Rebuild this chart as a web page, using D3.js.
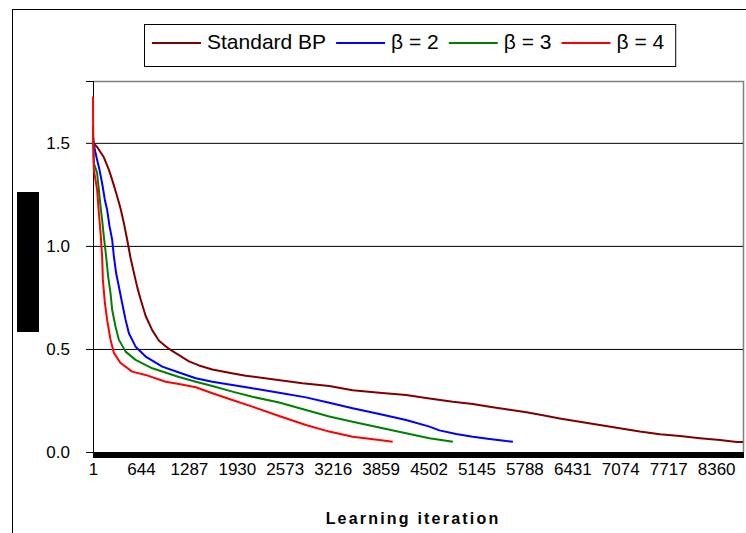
<!DOCTYPE html>
<html>
<head>
<meta charset="utf-8">
<script src="https://cdnjs.cloudflare.com/ajax/libs/d3/7.8.5/d3.min.js"></script>
<style>
body { margin: 0; background: #fff; }
text { font-family: "Liberation Sans", Arial, sans-serif; fill: #000; }
</style>
</head>
<body>
<div id="chartDiv"></div>
<script>
// series (iteration, error)
var seriesNames = ["Standard BP", "\u03b2 = 2", "\u03b2 = 3", "\u03b2 = 4"];
var seriesColors = ["#800000", "#0000ff", "#008000", "#ff0000"];

var bpIter = [1, 56, 146, 213, 258, 325, 371, 415, 459, 505, 549, 594, 640, 707, 796, 886, 1020, 1154, 1288, 1422,
    1602, 1826, 2050, 2408, 2811, 3170, 3483, 3842, 4201, 4514, 4827, 5096, 5320, 5545, 5814, 6037, 6261, 6530, 6799, 7068,
    7337, 7606, 7874, 8143, 8412, 8636, 8720];
var bpErr = [1.50, 1.48, 1.43, 1.37, 1.32, 1.24, 1.18, 1.11, 1.03, 0.94, 0.87, 0.80, 0.74, 0.66, 0.59, 0.54, 0.50, 0.47, 0.44, 0.42,
    0.40, 0.385, 0.37, 0.353, 0.334, 0.32, 0.30, 0.288, 0.277, 0.26, 0.244, 0.233, 0.22, 0.207, 0.193, 0.178, 0.163, 0.147, 0.131, 0.115,
    0.099, 0.086, 0.078, 0.067, 0.058, 0.049, 0.048];

var b2Iter = [1, 11, 25, 56, 88, 123, 160, 190, 223, 258, 281, 311, 348, 392, 438, 482, 572, 707, 930, 1154,
    1379, 1602, 1870, 2139, 2498, 2857, 3170, 3483, 3842, 4201, 4514, 4648, 4873, 5096, 5320, 5545, 5634];
var b2Err = [1.53, 1.50, 1.466, 1.417, 1.369, 1.304, 1.223, 1.175, 1.094, 1.029, 0.948, 0.867, 0.802, 0.722, 0.641, 0.576, 0.511, 0.463, 0.414, 0.386,
    0.358, 0.341, 0.325, 0.309, 0.288, 0.265, 0.239, 0.212, 0.184, 0.155, 0.123, 0.105, 0.087, 0.074, 0.063, 0.053, 0.05];

var b3Iter = [1, 3, 12, 56, 79, 102, 123, 146, 177, 204, 236, 258, 303, 348, 438, 572, 796, 1154, 1379, 1602,
    1870, 2139, 2498, 2857, 3170, 3483, 3842, 4201, 4514, 4827];
var b3Err = [1.58, 1.515, 1.401, 1.353, 1.272, 1.191, 1.126, 1.045, 0.948, 0.851, 0.77, 0.689, 0.608, 0.544, 0.487, 0.447, 0.406, 0.364, 0.341, 0.32,
    0.293, 0.268, 0.24, 0.204, 0.172, 0.147, 0.119, 0.091, 0.067, 0.05];

var b4Iter = [1, 2, 4, 12, 56, 79, 102, 123, 133, 160, 190, 236, 280, 370, 526, 706, 975, 1154, 1379, 1602,
    1870, 2139, 2498, 2857, 3170, 3483, 3842, 4021];
var b4Err = [1.725, 1.60, 1.50, 1.369, 1.272, 1.16, 1.063, 0.947, 0.835, 0.723, 0.641, 0.544, 0.481, 0.432, 0.39, 0.374, 0.341, 0.33, 0.314, 0.285,
    0.252, 0.22, 0.175, 0.131, 0.099, 0.074, 0.058, 0.05];

var xTickLabels = [1, 644, 1287, 1930, 2573, 3216, 3859, 4502, 5145, 5788, 6431, 7074, 7717, 8360];
var yTicks = [0, 0.5, 1.0, 1.5];
var numIterations = 8720;
var xTitle = "Learning iteration";

var width = 746, height = 533;
var plot = {left: 93, right: 743, top: 81, bottom: 452};

var x = d3.scaleLinear().domain([0.5, numIterations + 0.5]).range([plot.left, plot.right]);
var y = d3.scaleLinear().domain([0, 1.8]).range([plot.bottom, plot.top]);

var svg = d3.select('#chartDiv').append('svg')
    .attr('width', width)
    .attr('height', height);

// outer chart border
svg.append('rect')
    .attr('x', 12.5).attr('y', 9.5)
    .attr('width', 800).attr('height', 600)
    .attr('fill', '#fff')
    .attr('stroke', '#000');

// block left of the y axis
svg.append('rect')
    .attr('x', 17).attr('y', 192)
    .attr('width', 22).attr('height', 140)
    .attr('fill', '#000');

// plot area frame (top/right gray)
svg.append('path')
    .attr('d', 'M' + plot.left + ',' + (plot.top + 0.5) + 'H' + (plot.right + 0.5) + 'V' + plot.bottom)
    .attr('fill', 'none')
    .attr('stroke', '#808080')
    .attr('stroke-width', 1.5);

// gridlines + y axis
var yAxis = d3.axisLeft(y)
    .tickValues(yTicks)
    .tickFormat(d3.format('.1f'))
    .tickSize(7)
    .tickPadding(16);

var gy = svg.append('g')
    .attr('transform', 'translate(' + plot.left + ',0)')
    .call(yAxis);
gy.select('.domain').attr('stroke', '#000');
gy.selectAll('.tick line')
    .attr('x1', plot.right - plot.left)
    .attr('stroke', '#000');
gy.selectAll('.tick text')
    .style('font-size', '17px')
    .attr('fill', '#000');

// lines
var line = d3.line()
    .x(function(d) { return x(d[0]); })
    .y(function(d) { return y(d[1]); });

var series = [
    d3.zip(bpIter, bpErr),
    d3.zip(b2Iter, b2Err),
    d3.zip(b3Iter, b3Err),
    d3.zip(b4Iter, b4Err)
];

svg.append('g').selectAll('path')
    .data(series)
    .enter().append('path')
    .attr('fill', 'none')
    .attr('stroke', function(d, i) { return seriesColors[i]; })
    .attr('stroke-width', 2)
    .attr('stroke-linejoin', 'round')
    .attr('d', line);

// x axis: dense category tick marks
var xTickAxis = d3.axisBottom(x)
    .tickValues(d3.range(1, numIterations + 1, 6))
    .tickSize(6)
    .tickFormat('');
var gx = svg.append('g')
    .attr('transform', 'translate(0,' + plot.bottom + ')')
    .attr('shape-rendering', 'crispEdges')
    .call(xTickAxis);
gx.select('.domain').attr('stroke', '#000').attr('stroke-width', 1.5);
gx.selectAll('.tick line').attr('stroke', '#000');

var xLabelAxis = d3.axisBottom(x)
    .tickValues(xTickLabels)
    .tickSize(0)
    .tickPadding(11)
    .tickFormat(d3.format('d'));
var gxl = svg.append('g')
    .attr('transform', 'translate(0,' + plot.bottom + ')')
    .call(xLabelAxis);
gxl.select('.domain').remove();
gxl.selectAll('.tick text')
    .style('font-size', '17px')
    .attr('fill', '#000');

// x axis title
svg.append('text')
    .attr('x', 413)
    .attr('y', 524)
    .attr('text-anchor', 'middle')
    .style('font-size', '16px')
    .style('font-weight', 'bold')
    .style('letter-spacing', '2.2px')
    .text(xTitle);

// legend
var legend = svg.append('g');
var legendBox = legend.append('rect')
    .attr('y', 24.5).attr('height', 42)
    .attr('fill', '#fff')
    .attr('stroke', '#000');

var lx = 152;
seriesNames.forEach(function(name, i) {
    legend.append('line')
        .attr('x1', lx).attr('x2', lx + 49)
        .attr('y1', 43).attr('y2', 43)
        .attr('stroke', seriesColors[i])
        .attr('stroke-width', 2);
    var t = legend.append('text')
        .attr('x', lx + 55)
        .attr('y', 49)
        .style('font-size', '21px')
        .text(name);
    lx = lx + 55 + t.node().getComputedTextLength() + 10;
});
legendBox.attr('x', 144.5).attr('width', lx - 144 + 1);
</script>
</body>
</html>
